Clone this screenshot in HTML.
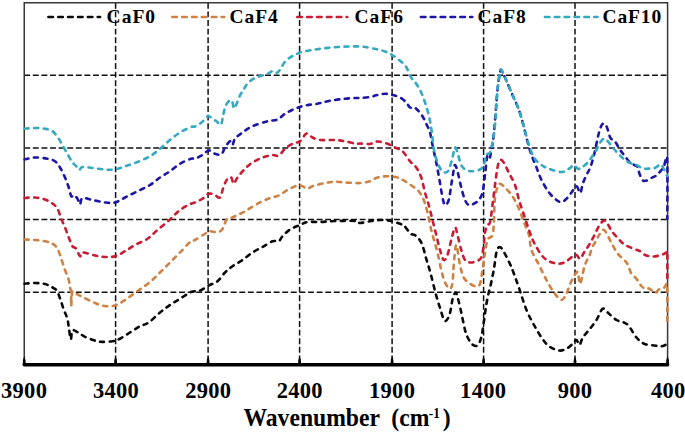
<!DOCTYPE html>
<html><head><meta charset="utf-8"><style>
html,body{margin:0;padding:0;background:#fff;width:685px;height:433px;overflow:hidden;font-family:"Liberation Serif",serif;}
svg{display:block}
</style></head><body>
<svg width="685" height="433" viewBox="0 0 685 433">
<rect width="685" height="433" fill="#fff"/>
<g stroke="#111" stroke-width="1.5" stroke-dasharray="5.9 2.7" fill="none"><line x1="115.6" y1="2.85" x2="115.6" y2="364.8"/><line x1="208.1" y1="2.85" x2="208.1" y2="364.8"/><line x1="299.6" y1="2.85" x2="299.6" y2="364.8"/><line x1="392.1" y1="2.85" x2="392.1" y2="364.8"/><line x1="483.6" y1="2.85" x2="483.6" y2="364.8"/><line x1="575.0" y1="2.85" x2="575.0" y2="364.8"/><line x1="24.25" y1="75.3" x2="667.6" y2="75.3"/><line x1="24.25" y1="148.0" x2="667.6" y2="148.0"/><line x1="24.25" y1="219.6" x2="667.6" y2="219.6"/><line x1="24.25" y1="292.2" x2="667.6" y2="292.2"/></g>
<path d="M24.25 364.8 V2.85 H667.6 V364.8" stroke="#383838" stroke-width="1.5" fill="none"/>
<path d="M24.50 283.75 C26.25 283.62 31.58 282.96 35.00 283.00 C38.42 283.04 42.08 283.25 45.00 284.00 C47.92 284.75 50.52 286.37 52.50 287.50 C54.48 288.63 55.58 288.82 56.90 290.80 C58.22 292.78 59.25 296.23 60.40 299.40 C61.55 302.57 62.65 306.63 63.80 309.80 C64.95 312.97 66.43 315.23 67.30 318.40 C68.17 321.57 68.42 325.28 69.00 328.80 C69.58 332.32 70.22 339.22 70.80 339.50 C71.38 339.78 71.35 331.70 72.50 330.50 C73.65 329.30 75.68 331.28 77.70 332.30 C79.72 333.32 82.00 335.32 84.60 336.60 C87.20 337.88 90.73 339.13 93.30 340.00 C95.87 340.87 96.80 341.59 100.00 341.80 C103.20 342.01 109.17 341.76 112.50 341.25 C115.83 340.74 117.08 340.21 120.00 338.75 C122.92 337.29 126.67 334.58 130.00 332.50 C133.33 330.42 136.88 327.92 140.00 326.25 C143.12 324.58 145.42 324.79 148.75 322.50 C152.08 320.21 156.46 315.42 160.00 312.50 C163.54 309.58 166.67 307.29 170.00 305.00 C173.33 302.71 176.50 300.92 180.00 298.75 C183.50 296.58 187.67 293.38 191.00 292.00 C194.33 290.62 197.04 291.58 200.00 290.50 C202.96 289.42 205.83 287.04 208.75 285.50 C211.67 283.96 214.79 283.42 217.50 281.25 C220.21 279.08 222.50 275.00 225.00 272.50 C227.50 270.00 229.58 268.33 232.50 266.25 C235.42 264.17 239.17 262.29 242.50 260.00 C245.83 257.71 249.17 254.67 252.50 252.50 C255.83 250.33 259.17 248.88 262.50 247.00 C265.83 245.12 269.79 242.21 272.50 241.25 C275.21 240.29 277.08 242.08 278.75 241.25 C280.42 240.42 280.62 238.21 282.50 236.25 C284.38 234.29 287.08 231.38 290.00 229.50 C292.92 227.62 297.08 226.25 300.00 225.00 C302.92 223.75 304.17 222.50 307.50 222.00 C310.83 221.50 315.42 222.17 320.00 222.00 C324.58 221.83 329.00 221.17 335.00 221.00 C341.00 220.83 351.83 220.67 356.00 221.00 C360.17 221.33 357.67 222.96 360.00 223.00 C362.33 223.04 366.67 221.75 370.00 221.25 C373.33 220.75 376.67 220.08 380.00 220.00 C383.33 219.92 386.67 220.12 390.00 220.75 C393.33 221.38 397.62 222.89 400.00 223.75 C402.38 224.61 402.53 224.24 404.30 225.90 C406.07 227.56 408.78 232.13 410.60 233.70 C412.42 235.27 413.38 233.75 415.20 235.30 C417.02 236.85 419.67 239.12 421.50 243.00 C423.33 246.88 424.65 253.40 426.20 258.60 C427.75 263.80 429.25 268.48 430.80 274.20 C432.35 279.92 433.93 287.18 435.50 292.90 C437.07 298.62 438.65 303.83 440.20 308.50 C441.75 313.17 443.25 319.87 444.80 320.90 C446.35 321.93 448.20 318.33 449.50 314.70 C450.80 311.07 451.60 302.80 452.60 299.10 C453.60 295.40 454.68 292.85 455.50 292.50 C456.32 292.15 456.68 294.33 457.50 297.00 C458.32 299.67 459.13 302.95 460.40 308.50 C461.67 314.05 463.75 325.22 465.10 330.30 C466.45 335.38 467.27 336.63 468.50 339.00 C469.73 341.37 471.00 343.42 472.50 344.50 C474.00 345.58 476.04 346.67 477.50 345.50 C478.96 344.33 480.21 341.33 481.25 337.50 C482.29 333.67 482.92 327.92 483.75 322.50 C484.58 317.08 485.42 310.00 486.25 305.00 C487.08 300.00 488.12 295.33 488.75 292.50 C489.38 289.67 489.17 291.75 490.00 288.00 C490.83 284.25 492.67 276.00 493.75 270.00 C494.83 264.00 495.62 255.78 496.50 252.00 C497.38 248.22 498.00 247.72 499.00 247.30 C500.00 246.88 500.67 246.72 502.50 249.50 C504.33 252.28 508.08 259.92 510.00 264.00 C511.92 268.08 512.50 270.00 514.00 274.00 C515.50 278.00 516.92 282.00 519.00 288.00 C521.08 294.00 524.00 303.83 526.50 310.00 C529.00 316.17 531.50 320.42 534.00 325.00 C536.50 329.58 539.00 333.96 541.50 337.50 C544.00 341.04 546.08 344.08 549.00 346.25 C551.92 348.42 556.08 350.08 559.00 350.50 C561.92 350.92 564.21 349.88 566.50 348.75 C568.79 347.62 571.08 345.21 572.75 343.75 C574.42 342.29 575.38 339.79 576.50 340.00 C577.62 340.21 578.46 345.42 579.50 345.00 C580.54 344.58 581.17 340.00 582.75 337.50 C584.33 335.00 586.71 332.92 589.00 330.00 C591.29 327.08 594.21 323.54 596.50 320.00 C598.79 316.46 600.67 309.79 602.75 308.75 C604.83 307.71 606.71 311.88 609.00 313.75 C611.29 315.62 614.00 318.54 616.50 320.00 C619.00 321.46 621.92 321.46 624.00 322.50 C626.08 323.54 626.92 323.75 629.00 326.25 C631.08 328.75 634.00 334.58 636.50 337.50 C639.00 340.42 641.08 342.42 644.00 343.75 C646.92 345.08 651.08 345.08 654.00 345.50 C656.92 345.92 659.62 346.33 661.50 346.25 C663.38 346.17 664.33 345.88 665.25 345.00 C666.17 344.12 666.71 341.67 667.00 341.00" stroke="#0a0a0a" stroke-width="2.6" stroke-dasharray="4.1 5.5" fill="none" stroke-linejoin="round" stroke-linecap="round"/>
<path d="M24.50 239.50 C26.25 239.58 31.58 239.71 35.00 240.00 C38.42 240.29 42.08 240.62 45.00 241.25 C47.92 241.88 50.42 242.50 52.50 243.75 C54.58 245.00 56.04 246.25 57.50 248.75 C58.96 251.25 60.00 255.21 61.25 258.75 C62.50 262.29 63.75 266.46 65.00 270.00 C66.25 273.54 67.92 277.08 68.75 280.00 C69.58 282.92 69.62 285.50 70.00 287.50 C70.38 289.50 70.79 288.92 71.00 292.00 C71.21 295.08 71.08 305.92 71.25 306.00 C71.42 306.08 71.58 294.75 72.00 292.50 C72.42 290.25 72.00 291.75 73.75 292.50 C75.50 293.25 78.96 295.25 82.50 297.00 C86.04 298.75 91.25 301.50 95.00 303.00 C98.75 304.50 101.67 305.58 105.00 306.00 C108.33 306.42 111.67 306.50 115.00 305.50 C118.33 304.50 121.25 302.42 125.00 300.00 C128.75 297.58 133.33 294.00 137.50 291.00 C141.67 288.00 146.25 285.08 150.00 282.00 C153.75 278.92 156.67 275.75 160.00 272.50 C163.33 269.25 166.67 265.83 170.00 262.50 C173.33 259.17 176.50 256.04 180.00 252.50 C183.50 248.96 188.50 243.33 191.00 241.25 C193.50 239.17 192.67 241.25 195.00 240.00 C197.33 238.75 202.50 235.21 205.00 233.75 C207.50 232.29 207.92 231.50 210.00 231.25 C212.08 231.00 215.42 232.62 217.50 232.25 C219.58 231.88 221.04 231.04 222.50 229.00 C223.96 226.96 225.21 221.71 226.25 220.00 C227.29 218.29 227.29 219.38 228.75 218.75 C230.21 218.12 232.29 217.50 235.00 216.25 C237.71 215.00 241.25 213.33 245.00 211.25 C248.75 209.17 253.33 205.96 257.50 203.75 C261.67 201.54 266.46 199.38 270.00 198.00 C273.54 196.62 275.83 196.83 278.75 195.50 C281.67 194.17 284.38 191.67 287.50 190.00 C290.62 188.33 295.00 186.12 297.50 185.50 C300.00 184.88 300.83 185.71 302.50 186.25 C304.17 186.79 305.83 188.75 307.50 188.75 C309.17 188.75 309.58 187.21 312.50 186.25 C315.42 185.29 321.25 183.75 325.00 183.00 C328.75 182.25 331.67 181.83 335.00 181.75 C338.33 181.67 341.50 182.29 345.00 182.50 C348.50 182.71 353.50 182.92 356.00 183.00 C358.50 183.08 357.67 183.29 360.00 183.00 C362.33 182.71 367.08 182.17 370.00 181.25 C372.92 180.33 374.58 178.33 377.50 177.50 C380.42 176.67 384.17 176.25 387.50 176.25 C390.83 176.25 394.58 176.67 397.50 177.50 C400.42 178.33 402.50 179.79 405.00 181.25 C407.50 182.71 410.21 184.58 412.50 186.25 C414.79 187.92 416.88 188.96 418.75 191.25 C420.62 193.54 422.29 196.46 423.75 200.00 C425.21 203.54 426.25 207.50 427.50 212.50 C428.75 217.50 430.17 225.42 431.25 230.00 C432.33 234.58 432.96 236.25 434.00 240.00 C435.04 243.75 436.29 247.50 437.50 252.50 C438.71 257.50 440.00 265.00 441.25 270.00 C442.50 275.00 443.54 279.38 445.00 282.50 C446.46 285.62 448.75 288.75 450.00 288.75 C451.25 288.75 451.88 286.46 452.50 282.50 C453.12 278.54 453.12 271.25 453.75 265.00 C454.38 258.75 455.21 245.00 456.25 245.00 C457.29 245.00 458.75 259.58 460.00 265.00 C461.25 270.42 462.08 274.38 463.75 277.50 C465.42 280.62 467.92 282.29 470.00 283.75 C472.08 285.21 474.58 286.25 476.25 286.25 C477.92 286.25 478.96 286.46 480.00 283.75 C481.04 281.04 481.67 275.21 482.50 270.00 C483.33 264.79 484.17 257.50 485.00 252.50 C485.83 247.50 486.67 242.50 487.50 240.00 C488.33 237.50 489.17 238.33 490.00 237.50 C490.83 236.67 491.88 237.08 492.50 235.00 C493.12 232.92 493.33 231.25 493.75 225.00 C494.17 218.75 494.38 203.75 495.00 197.50 C495.62 191.25 496.67 189.79 497.50 187.50 C498.33 185.21 498.75 183.75 500.00 183.75 C501.25 183.75 502.92 185.42 505.00 187.50 C507.08 189.58 510.17 192.71 512.50 196.25 C514.83 199.79 517.08 204.38 519.00 208.75 C520.92 213.12 522.33 218.12 524.00 222.50 C525.67 226.88 527.75 230.42 529.00 235.00 C530.25 239.58 529.83 245.00 531.50 250.00 C533.17 255.00 536.50 260.00 539.00 265.00 C541.50 270.00 544.00 275.42 546.50 280.00 C549.00 284.58 551.50 289.17 554.00 292.50 C556.50 295.83 559.42 299.83 561.50 300.00 C563.58 300.17 565.08 296.08 566.50 293.50 C567.92 290.92 568.75 287.42 570.00 284.50 C571.25 281.58 572.93 277.92 574.00 276.00 C575.07 274.08 575.73 273.58 576.40 273.00 C577.07 272.42 577.43 270.67 578.00 272.50 C578.57 274.33 579.12 283.25 579.80 284.00 C580.48 284.75 581.33 279.92 582.10 277.00 C582.87 274.08 583.53 269.40 584.40 266.50 C585.27 263.60 586.43 261.52 587.30 259.60 C588.17 257.68 588.73 257.10 589.60 255.00 C590.47 252.90 591.35 249.50 592.50 247.00 C593.65 244.50 595.40 242.00 596.50 240.00 C597.60 238.00 597.97 236.70 599.10 235.00 C600.23 233.30 602.08 230.15 603.30 229.80 C604.52 229.45 605.02 230.65 606.40 232.90 C607.78 235.15 609.70 239.83 611.60 243.30 C613.50 246.77 615.72 250.93 617.80 253.70 C619.88 256.47 622.38 258.02 624.10 259.90 C625.82 261.78 626.98 262.90 628.10 265.00 C629.22 267.10 629.63 270.45 630.80 272.50 C631.97 274.55 633.80 275.78 635.10 277.30 C636.40 278.82 637.57 280.15 638.60 281.60 C639.63 283.05 640.27 284.83 641.30 286.00 C642.33 287.17 643.63 288.23 644.80 288.60 C645.97 288.97 647.13 287.90 648.30 288.20 C649.47 288.50 650.63 289.60 651.80 290.40 C652.97 291.20 654.13 293.15 655.30 293.00 C656.47 292.85 657.78 290.23 658.80 289.50 C659.82 288.77 660.53 288.88 661.40 288.60 C662.27 288.32 663.27 288.38 664.00 287.80 C664.73 287.22 665.32 285.83 665.80 285.10 C666.28 284.37 666.65 282.58 666.90 283.40 C667.15 284.22 667.23 283.57 667.30 290.00 C667.37 296.43 667.30 316.67 667.30 322.00" stroke="#CD8244" stroke-width="2.6" stroke-dasharray="4.1 5.5" fill="none" stroke-linejoin="round" stroke-linecap="round"/>
<path d="M24.50 198.00 C26.25 197.92 31.58 197.25 35.00 197.50 C38.42 197.75 42.08 198.50 45.00 199.50 C47.92 200.50 50.42 201.96 52.50 203.50 C54.58 205.04 56.04 206.21 57.50 208.75 C58.96 211.29 60.00 215.62 61.25 218.75 C62.50 221.88 63.75 224.38 65.00 227.50 C66.25 230.62 67.50 234.38 68.75 237.50 C70.00 240.62 71.25 244.38 72.50 246.25 C73.75 248.12 75.00 247.08 76.25 248.75 C77.50 250.42 78.96 255.62 80.00 256.25 C81.04 256.88 80.00 252.62 82.50 252.50 C85.00 252.38 91.25 254.75 95.00 255.50 C98.75 256.25 101.67 256.88 105.00 257.00 C108.33 257.12 111.67 257.21 115.00 256.25 C118.33 255.29 121.67 253.12 125.00 251.25 C128.33 249.38 131.25 247.08 135.00 245.00 C138.75 242.92 143.75 241.25 147.50 238.75 C151.25 236.25 153.75 233.21 157.50 230.00 C161.25 226.79 166.25 222.83 170.00 219.50 C173.75 216.17 176.50 212.62 180.00 210.00 C183.50 207.38 188.50 205.00 191.00 203.75 C193.50 202.50 193.08 203.33 195.00 202.50 C196.92 201.67 200.21 200.21 202.50 198.75 C204.79 197.29 206.67 194.38 208.75 193.75 C210.83 193.12 213.12 194.38 215.00 195.00 C216.88 195.62 218.54 198.96 220.00 197.50 C221.46 196.04 222.50 189.38 223.75 186.25 C225.00 183.12 226.25 180.21 227.50 178.75 C228.75 177.29 230.21 176.67 231.25 177.50 C232.29 178.33 232.71 183.75 233.75 183.75 C234.79 183.75 235.62 180.00 237.50 177.50 C239.38 175.00 242.50 171.25 245.00 168.75 C247.50 166.25 249.58 164.38 252.50 162.50 C255.42 160.62 259.17 158.75 262.50 157.50 C265.83 156.25 269.79 155.29 272.50 155.00 C275.21 154.71 276.67 156.79 278.75 155.75 C280.83 154.71 282.71 150.75 285.00 148.75 C287.29 146.75 290.00 145.00 292.50 143.75 C295.00 142.50 297.67 142.96 300.00 141.25 C302.33 139.54 304.42 134.12 306.50 133.50 C308.58 132.88 310.25 136.42 312.50 137.50 C314.75 138.58 316.25 139.58 320.00 140.00 C323.75 140.42 330.83 139.79 335.00 140.00 C339.17 140.21 341.50 140.62 345.00 141.25 C348.50 141.88 353.50 143.38 356.00 143.75 C358.50 144.12 357.67 143.46 360.00 143.50 C362.33 143.54 367.08 144.33 370.00 144.00 C372.92 143.67 374.58 141.54 377.50 141.50 C380.42 141.46 384.58 142.75 387.50 143.75 C390.42 144.75 392.50 146.25 395.00 147.50 C397.50 148.75 400.00 148.96 402.50 151.25 C405.00 153.54 407.71 158.54 410.00 161.25 C412.29 163.96 414.38 164.79 416.25 167.50 C418.12 170.21 419.79 173.33 421.25 177.50 C422.71 181.67 423.75 187.92 425.00 192.50 C426.25 197.08 427.50 200.42 428.75 205.00 C430.00 209.58 431.25 215.00 432.50 220.00 C433.75 225.00 435.00 230.00 436.25 235.00 C437.50 240.00 438.75 245.83 440.00 250.00 C441.25 254.17 442.50 259.17 443.75 260.00 C445.00 260.83 446.25 258.33 447.50 255.00 C448.75 251.67 450.00 244.58 451.25 240.00 C452.50 235.42 453.96 228.33 455.00 227.50 C456.04 226.67 456.46 231.25 457.50 235.00 C458.54 238.75 460.00 245.83 461.25 250.00 C462.50 254.17 463.54 257.92 465.00 260.00 C466.46 262.08 468.12 262.29 470.00 262.50 C471.88 262.71 474.38 262.08 476.25 261.25 C478.12 260.42 480.00 260.21 481.25 257.50 C482.50 254.79 483.12 249.17 483.75 245.00 C484.38 240.83 484.38 235.83 485.00 232.50 C485.62 229.17 486.67 226.67 487.50 225.00 C488.33 223.33 489.17 225.83 490.00 222.50 C490.83 219.17 491.67 211.25 492.50 205.00 C493.33 198.75 494.17 191.25 495.00 185.00 C495.83 178.75 496.67 171.67 497.50 167.50 C498.33 163.33 498.96 160.83 500.00 160.00 C501.04 159.17 502.29 160.42 503.75 162.50 C505.21 164.58 506.88 168.75 508.75 172.50 C510.62 176.25 513.29 180.42 515.00 185.00 C516.71 189.58 517.50 195.00 519.00 200.00 C520.50 205.00 522.33 210.00 524.00 215.00 C525.67 220.00 527.33 225.42 529.00 230.00 C530.67 234.58 531.92 238.33 534.00 242.50 C536.08 246.67 539.00 251.88 541.50 255.00 C544.00 258.12 546.08 259.79 549.00 261.25 C551.92 262.71 556.08 263.75 559.00 263.75 C561.92 263.75 564.21 262.50 566.50 261.25 C568.79 260.00 571.08 257.29 572.75 256.25 C574.42 255.21 575.25 254.58 576.50 255.00 C577.75 255.42 579.00 259.17 580.25 258.75 C581.50 258.33 582.54 254.79 584.00 252.50 C585.46 250.21 587.33 247.75 589.00 245.00 C590.67 242.25 592.33 239.17 594.00 236.00 C595.67 232.83 597.33 228.58 599.00 226.00 C600.67 223.42 602.60 220.92 604.00 220.50 C605.40 220.08 606.13 221.78 607.40 223.50 C608.67 225.22 609.87 228.37 611.60 230.80 C613.33 233.23 615.72 235.85 617.80 238.10 C619.88 240.35 621.67 242.62 624.10 244.30 C626.53 245.98 629.75 247.05 632.40 248.20 C635.05 249.35 637.78 250.02 640.00 251.20 C642.22 252.38 643.37 254.42 645.70 255.30 C648.03 256.18 651.22 256.63 654.00 256.50 C656.78 256.37 660.32 255.18 662.40 254.50 C664.48 253.82 665.68 252.65 666.50 252.40 C667.32 252.15 667.17 248.23 667.30 253.00 C667.43 257.77 667.30 276.33 667.30 281.00" stroke="#C81C34" stroke-width="2.6" stroke-dasharray="4.1 5.5" fill="none" stroke-linejoin="round" stroke-linecap="round"/>
<path d="M24.50 159.50 C26.25 159.17 31.17 157.62 35.00 157.50 C38.83 157.38 44.17 158.12 47.50 158.75 C50.83 159.38 52.92 159.79 55.00 161.25 C57.08 162.71 58.33 164.79 60.00 167.50 C61.67 170.21 63.54 174.17 65.00 177.50 C66.46 180.83 67.71 184.38 68.75 187.50 C69.79 190.62 70.42 195.00 71.25 196.25 C72.08 197.50 72.71 194.58 73.75 195.00 C74.79 195.42 76.46 197.17 77.50 198.75 C78.54 200.33 79.17 204.62 80.00 204.50 C80.83 204.38 80.42 198.75 82.50 198.00 C84.58 197.25 88.75 199.25 92.50 200.00 C96.25 200.75 101.25 202.08 105.00 202.50 C108.75 202.92 111.67 203.33 115.00 202.50 C118.33 201.67 121.25 199.38 125.00 197.50 C128.75 195.62 133.33 193.33 137.50 191.25 C141.67 189.17 146.25 187.29 150.00 185.00 C153.75 182.71 156.67 179.79 160.00 177.50 C163.33 175.21 166.67 173.54 170.00 171.25 C173.33 168.96 176.50 165.83 180.00 163.75 C183.50 161.67 188.50 159.58 191.00 158.75 C193.50 157.92 193.08 159.38 195.00 158.75 C196.92 158.12 200.21 156.38 202.50 155.00 C204.79 153.62 206.67 150.71 208.75 150.50 C210.83 150.29 212.92 153.08 215.00 153.75 C217.08 154.42 219.58 155.54 221.25 154.50 C222.92 153.46 223.54 149.71 225.00 147.50 C226.46 145.29 228.75 141.67 230.00 141.25 C231.25 140.83 231.67 145.42 232.50 145.00 C233.33 144.58 233.33 140.83 235.00 138.75 C236.67 136.67 239.58 134.58 242.50 132.50 C245.42 130.42 248.33 128.12 252.50 126.25 C256.67 124.38 263.33 122.38 267.50 121.25 C271.67 120.12 274.58 120.75 277.50 119.50 C280.42 118.25 282.08 115.54 285.00 113.75 C287.92 111.96 291.67 110.12 295.00 108.75 C298.33 107.38 301.25 106.33 305.00 105.50 C308.75 104.67 313.33 104.54 317.50 103.75 C321.67 102.96 325.42 101.58 330.00 100.75 C334.58 99.92 340.67 99.21 345.00 98.75 C349.33 98.29 353.50 98.12 356.00 98.00 C358.50 97.88 357.67 98.17 360.00 98.00 C362.33 97.83 367.08 97.50 370.00 97.00 C372.92 96.50 375.00 95.54 377.50 95.00 C380.00 94.46 382.50 93.75 385.00 93.75 C387.50 93.75 390.00 94.38 392.50 95.00 C395.00 95.62 397.71 96.25 400.00 97.50 C402.29 98.75 404.58 100.83 406.25 102.50 C407.92 104.17 408.75 106.75 410.00 107.50 C411.25 108.25 412.50 106.58 413.75 107.00 C415.00 107.42 416.04 108.46 417.50 110.00 C418.96 111.54 421.04 113.96 422.50 116.25 C423.96 118.54 425.00 121.04 426.25 123.75 C427.50 126.46 428.96 128.96 430.00 132.50 C431.04 136.04 431.46 140.00 432.50 145.00 C433.54 150.00 435.08 156.67 436.25 162.50 C437.42 168.33 438.46 174.17 439.50 180.00 C440.54 185.83 441.58 193.33 442.50 197.50 C443.42 201.67 443.96 204.58 445.00 205.00 C446.04 205.42 447.71 203.33 448.75 200.00 C449.79 196.67 450.42 190.00 451.25 185.00 C452.08 180.00 453.12 173.33 453.75 170.00 C454.38 166.67 454.38 164.79 455.00 165.00 C455.62 165.21 456.46 167.50 457.50 171.25 C458.54 175.00 460.00 182.71 461.25 187.50 C462.50 192.29 463.75 197.08 465.00 200.00 C466.25 202.92 467.29 204.38 468.75 205.00 C470.21 205.62 472.08 204.58 473.75 203.75 C475.42 202.92 477.29 201.88 478.75 200.00 C480.21 198.12 481.46 196.67 482.50 192.50 C483.54 188.33 484.25 180.83 485.00 175.00 C485.75 169.17 486.38 160.83 487.00 157.50 C487.62 154.17 488.25 155.00 488.75 155.00 C489.25 155.00 489.58 158.33 490.00 157.50 C490.42 156.67 490.62 153.75 491.25 150.00 C491.88 146.25 492.71 145.00 493.75 135.00 C494.79 125.00 496.46 100.33 497.50 90.00 C498.54 79.67 499.38 76.33 500.00 73.00 C500.62 69.67 500.42 69.25 501.25 70.00 C502.08 70.75 503.12 73.33 505.00 77.50 C506.88 81.67 510.17 89.58 512.50 95.00 C514.83 100.42 517.08 104.58 519.00 110.00 C520.92 115.42 522.54 122.08 524.00 127.50 C525.46 132.92 526.50 137.92 527.75 142.50 C529.00 147.08 530.04 150.83 531.50 155.00 C532.96 159.17 534.83 163.33 536.50 167.50 C538.17 171.67 539.42 175.83 541.50 180.00 C543.58 184.17 546.50 189.17 549.00 192.50 C551.50 195.83 554.42 198.42 556.50 200.00 C558.58 201.58 559.83 202.21 561.50 202.00 C563.17 201.79 564.83 200.33 566.50 198.75 C568.17 197.17 569.83 194.58 571.50 192.50 C573.17 190.42 575.04 186.17 576.50 186.25 C577.96 186.33 579.21 193.42 580.25 193.00 C581.29 192.58 581.71 186.75 582.75 183.75 C583.79 180.75 585.25 177.71 586.50 175.00 C587.75 172.29 589.00 170.83 590.25 167.50 C591.50 164.17 592.54 160.83 594.00 155.00 C595.46 149.17 597.54 137.71 599.00 132.50 C600.46 127.29 601.50 124.79 602.75 123.75 C604.00 122.71 605.25 123.96 606.50 126.25 C607.75 128.54 608.83 134.96 610.25 137.50 C611.67 140.04 613.46 139.58 615.00 141.50 C616.54 143.42 618.00 146.75 619.50 149.00 C621.00 151.25 622.25 152.75 624.00 155.00 C625.75 157.25 628.42 160.90 630.00 162.50 C631.58 164.10 632.33 163.97 633.50 164.60 C634.67 165.23 636.18 165.40 637.00 166.30 C637.82 167.20 637.93 168.62 638.40 170.00 C638.87 171.38 639.18 172.98 639.80 174.60 C640.42 176.22 641.33 178.63 642.10 179.70 C642.87 180.77 643.40 180.93 644.40 181.00 C645.40 181.07 646.87 180.63 648.10 180.10 C649.33 179.57 650.42 178.57 651.80 177.80 C653.18 177.03 655.17 176.35 656.40 175.50 C657.63 174.65 658.35 173.62 659.20 172.70 C660.05 171.78 660.73 170.92 661.50 170.00 C662.27 169.08 663.10 168.90 663.80 167.20 C664.50 165.50 665.12 160.67 665.70 159.80 C666.28 158.93 667.03 152.13 667.30 162.00 C667.57 171.87 667.30 209.50 667.30 219.00" stroke="#1C16A4" stroke-width="2.6" stroke-dasharray="4.1 5.5" fill="none" stroke-linejoin="round" stroke-linecap="round"/>
<path d="M24.50 128.75 C26.25 128.62 31.58 128.00 35.00 128.00 C38.42 128.00 42.08 128.21 45.00 128.75 C47.92 129.29 50.21 129.58 52.50 131.25 C54.79 132.92 56.88 136.04 58.75 138.75 C60.62 141.46 62.08 144.58 63.75 147.50 C65.42 150.42 67.29 153.75 68.75 156.25 C70.21 158.75 71.25 160.83 72.50 162.50 C73.75 164.17 75.12 165.00 76.25 166.25 C77.38 167.50 78.21 169.88 79.25 170.00 C80.29 170.12 80.29 167.33 82.50 167.00 C84.71 166.67 88.75 167.58 92.50 168.00 C96.25 168.42 101.25 169.25 105.00 169.50 C108.75 169.75 111.67 170.04 115.00 169.50 C118.33 168.96 121.25 167.50 125.00 166.25 C128.75 165.00 133.33 163.67 137.50 162.00 C141.67 160.33 146.25 158.46 150.00 156.25 C153.75 154.04 156.67 151.46 160.00 148.75 C163.33 146.04 166.67 142.71 170.00 140.00 C173.33 137.29 176.50 134.67 180.00 132.50 C183.50 130.33 188.50 128.00 191.00 127.00 C193.50 126.00 193.18 127.30 195.00 126.50 C196.82 125.70 199.73 123.93 201.90 122.20 C204.07 120.47 206.27 116.68 208.00 116.10 C209.73 115.52 210.87 117.83 212.30 118.70 C213.73 119.57 215.15 120.28 216.60 121.30 C218.05 122.32 219.85 126.10 221.00 124.80 C222.15 123.50 222.65 116.82 223.50 113.50 C224.35 110.18 225.08 107.05 226.10 104.90 C227.12 102.75 228.58 101.18 229.60 100.60 C230.62 100.02 231.48 100.10 232.20 101.40 C232.92 102.70 233.18 107.97 233.90 108.40 C234.62 108.83 235.48 106.17 236.50 104.00 C237.52 101.83 238.70 97.98 240.00 95.40 C241.30 92.82 243.05 90.48 244.30 88.50 C245.55 86.52 245.90 85.17 247.50 83.50 C249.10 81.83 251.30 79.87 253.90 78.50 C256.50 77.13 260.80 76.07 263.10 75.30 C265.40 74.53 266.07 74.62 267.70 73.90 C269.33 73.18 271.35 71.20 272.90 71.00 C274.45 70.80 275.75 73.00 277.00 72.70 C278.25 72.40 279.15 70.93 280.40 69.20 C281.65 67.47 282.95 64.22 284.50 62.30 C286.05 60.38 287.88 58.95 289.70 57.70 C291.52 56.45 293.60 55.70 295.40 54.80 C297.20 53.90 297.73 53.10 300.50 52.30 C303.27 51.50 307.92 50.68 312.00 50.00 C316.08 49.32 320.67 48.70 325.00 48.20 C329.33 47.70 333.67 47.30 338.00 47.00 C342.33 46.70 346.75 46.43 351.00 46.40 C355.25 46.37 359.08 46.30 363.50 46.80 C367.92 47.30 373.92 48.62 377.50 49.40 C381.08 50.18 382.65 50.63 385.00 51.50 C387.35 52.37 389.27 53.18 391.60 54.60 C393.93 56.02 396.67 58.10 399.00 60.00 C401.33 61.90 403.56 63.08 405.60 66.00 C407.64 68.92 409.48 74.54 411.25 77.50 C413.02 80.46 414.58 81.25 416.25 83.75 C417.92 86.25 419.79 89.38 421.25 92.50 C422.71 95.62 423.75 98.75 425.00 102.50 C426.25 106.25 427.67 110.42 428.75 115.00 C429.83 119.58 430.62 124.17 431.50 130.00 C432.38 135.83 433.00 144.58 434.00 150.00 C435.00 155.42 436.29 159.17 437.50 162.50 C438.71 165.83 440.00 168.33 441.25 170.00 C442.50 171.67 443.75 172.50 445.00 172.50 C446.25 172.50 447.50 172.50 448.75 170.00 C450.00 167.50 451.46 161.25 452.50 157.50 C453.54 153.75 454.17 148.33 455.00 147.50 C455.83 146.67 456.46 149.58 457.50 152.50 C458.54 155.42 459.79 162.08 461.25 165.00 C462.71 167.92 464.38 168.96 466.25 170.00 C468.12 171.04 470.21 171.33 472.50 171.25 C474.79 171.17 478.12 170.54 480.00 169.50 C481.88 168.46 482.71 167.42 483.75 165.00 C484.79 162.58 485.21 157.08 486.25 155.00 C487.29 152.92 488.96 154.58 490.00 152.50 C491.04 150.42 491.67 147.08 492.50 142.50 C493.33 137.92 494.17 133.75 495.00 125.00 C495.83 116.25 496.67 98.67 497.50 90.00 C498.33 81.33 499.38 76.33 500.00 73.00 C500.62 69.67 500.42 69.25 501.25 70.00 C502.08 70.75 503.12 73.33 505.00 77.50 C506.88 81.67 510.17 89.58 512.50 95.00 C514.83 100.42 517.08 104.58 519.00 110.00 C520.92 115.42 522.33 121.67 524.00 127.50 C525.67 133.33 527.33 140.00 529.00 145.00 C530.67 150.00 531.92 154.17 534.00 157.50 C536.08 160.83 539.00 163.12 541.50 165.00 C544.00 166.88 545.67 167.58 549.00 168.75 C552.33 169.92 558.17 172.00 561.50 172.00 C564.83 172.00 566.92 169.92 569.00 168.75 C571.08 167.58 572.54 165.00 574.00 165.00 C575.46 165.00 576.50 168.33 577.75 168.75 C579.00 169.17 580.04 168.33 581.50 167.50 C582.96 166.67 584.83 165.42 586.50 163.75 C588.17 162.08 589.83 159.79 591.50 157.50 C593.17 155.21 595.04 152.50 596.50 150.00 C597.96 147.50 599.00 144.38 600.25 142.50 C601.50 140.62 602.75 138.96 604.00 138.75 C605.25 138.54 606.08 139.54 607.75 141.25 C609.42 142.96 611.71 146.38 614.00 149.00 C616.29 151.62 619.00 154.75 621.50 157.00 C624.00 159.25 626.50 161.17 629.00 162.50 C631.50 163.83 634.23 164.02 636.50 165.00 C638.77 165.98 640.67 167.80 642.60 168.40 C644.53 169.00 646.10 168.65 648.10 168.60 C650.10 168.55 652.75 168.70 654.60 168.10 C656.45 167.50 658.05 165.52 659.20 165.00 C660.35 164.48 660.73 164.33 661.50 165.00 C662.27 165.67 663.10 167.72 663.80 169.00 C664.50 170.28 665.13 171.53 665.70 172.70 C666.27 173.87 666.95 175.45 667.20 176.00" stroke="#34A9C0" stroke-width="2.6" stroke-dasharray="4.1 5.5" fill="none" stroke-linejoin="round" stroke-linecap="round"/>
<line x1="24.25" y1="364.8" x2="667.6" y2="364.8" stroke="#000" stroke-width="3.5" stroke-linecap="round"/>
<path d="M22.65 364.8 L23.05 359.8 L24.25 356.3 L25.45 359.8 L25.85 364.8 Z" fill="#000"/>
<path d="M114.0 364.8 L114.39999999999999 359.8 L115.6 356.3 L116.8 359.8 L117.19999999999999 364.8 Z" fill="#000"/>
<path d="M206.5 364.8 L206.9 359.8 L208.1 356.3 L209.29999999999998 359.8 L209.7 364.8 Z" fill="#000"/>
<path d="M298.0 364.8 L298.40000000000003 359.8 L299.6 356.3 L300.8 359.8 L301.20000000000005 364.8 Z" fill="#000"/>
<path d="M390.5 364.8 L390.90000000000003 359.8 L392.1 356.3 L393.3 359.8 L393.70000000000005 364.8 Z" fill="#000"/>
<path d="M482.0 364.8 L482.40000000000003 359.8 L483.6 356.3 L484.8 359.8 L485.20000000000005 364.8 Z" fill="#000"/>
<path d="M573.4 364.8 L573.8 359.8 L575.0 356.3 L576.2 359.8 L576.6 364.8 Z" fill="#000"/>
<path d="M666.0 364.8 L666.4 359.8 L667.6 356.3 L668.8000000000001 359.8 L669.2 364.8 Z" fill="#000"/>
<line x1="48.45" y1="17" x2="100.05000000000001" y2="17" stroke="#0a0a0a" stroke-width="2.7" stroke-linecap="round" stroke-dasharray="4.5 5.36" />
<text x="106.6" y="23" font-family="Liberation Serif" font-weight="bold" font-size="19.5" letter-spacing="1.0" fill="#000">CaF0</text>
<line x1="172.35" y1="17" x2="224.15" y2="17" stroke="#CD8244" stroke-width="2.7" stroke-linecap="round" stroke-dasharray="4.5 5.36" />
<text x="229.6" y="23" font-family="Liberation Serif" font-weight="bold" font-size="19.5" letter-spacing="0.9" fill="#000">CaF4</text>
<line x1="297.35" y1="17" x2="347.25" y2="17" stroke="#C81C34" stroke-width="2.7" stroke-linecap="round" stroke-dasharray="4.5 5.36" />
<text x="354.5" y="23" font-family="Liberation Serif" font-weight="bold" font-size="19.5" letter-spacing="1.0" fill="#000">CaF6</text>
<line x1="420.95000000000005" y1="17" x2="472.25" y2="17" stroke="#1C16A4" stroke-width="2.7" stroke-linecap="round" stroke-dasharray="4.5 5.36" />
<text x="477.5" y="23" font-family="Liberation Serif" font-weight="bold" font-size="19.5" letter-spacing="0.9" fill="#000">CaF8</text>
<line x1="544.95" y1="17" x2="597.4499999999999" y2="17" stroke="#34A9C0" stroke-width="2.7" stroke-linecap="round" stroke-dasharray="4.5 5.36" />
<text x="602.5" y="23" font-family="Liberation Serif" font-weight="bold" font-size="19.5" letter-spacing="0.85" fill="#000">CaF10</text>
<text x="1.00" y="397.6" font-family="Liberation Serif" font-weight="bold" font-size="22.5" letter-spacing="0.3" fill="#000">3900</text>
<text x="92.90" y="397.6" font-family="Liberation Serif" font-weight="bold" font-size="22.5" letter-spacing="0.3" fill="#000">3400</text>
<text x="185.20" y="397.6" font-family="Liberation Serif" font-weight="bold" font-size="22.5" letter-spacing="0.3" fill="#000">2900</text>
<text x="276.70" y="397.6" font-family="Liberation Serif" font-weight="bold" font-size="22.5" letter-spacing="0.3" fill="#000">2400</text>
<text x="369.00" y="397.6" font-family="Liberation Serif" font-weight="bold" font-size="22.5" letter-spacing="0.3" fill="#000">1900</text>
<text x="460.10" y="397.6" font-family="Liberation Serif" font-weight="bold" font-size="22.5" letter-spacing="0.3" fill="#000">1400</text>
<text x="557.70" y="397.6" font-family="Liberation Serif" font-weight="bold" font-size="22.5" letter-spacing="0.3" fill="#000">900</text>
<text x="650.90" y="397.6" font-family="Liberation Serif" font-weight="bold" font-size="22.5" letter-spacing="0.3" fill="#000">400</text>
<text transform="translate(243.5 426) scale(0.945 1)" font-family="Liberation Serif" font-weight="bold" font-size="25" fill="#000" xml:space="preserve">Wavenumber  (cm<tspan dx="-0.5" dy="-8.5" font-size="14">-1</tspan><tspan dx="3" dy="8.5">)</tspan></text>
</svg>
</body></html>
